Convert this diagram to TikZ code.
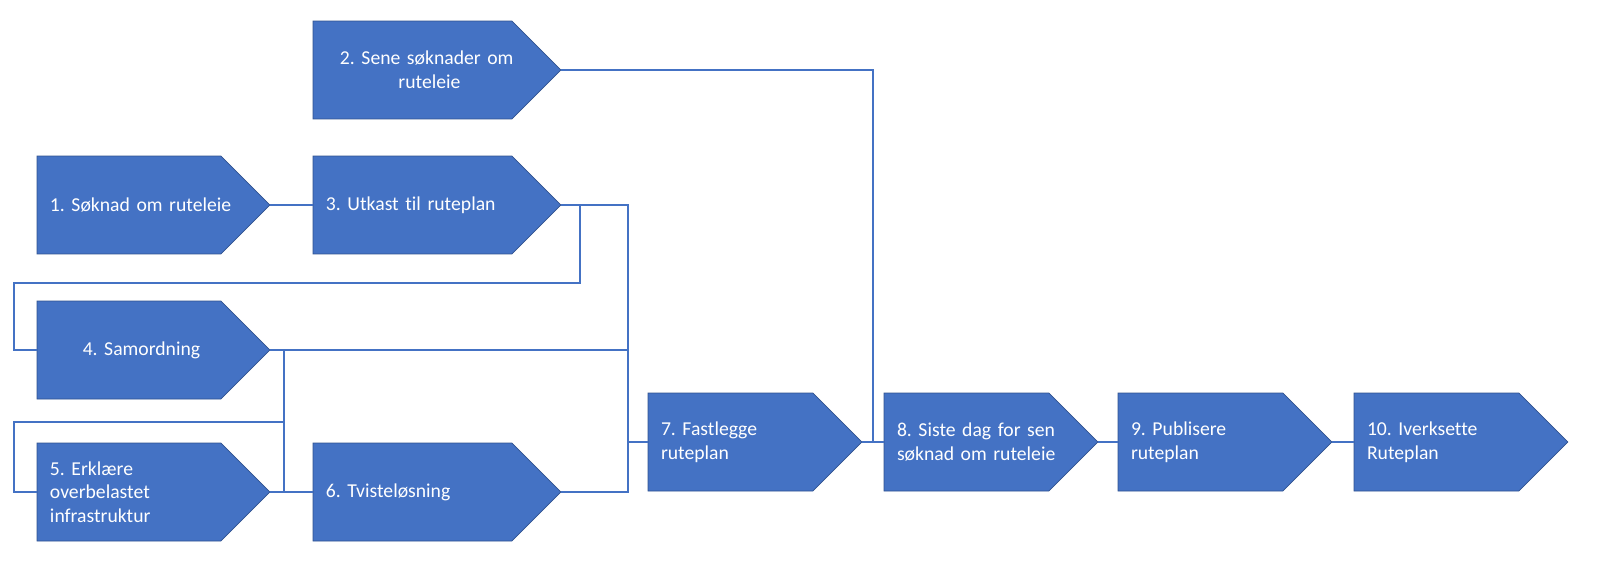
\documentclass[tikz,border=0pt]{standalone}
\usepackage{fontspec}
\setmainfont{Carlito}[Ligatures=NoCommon]
\usetikzlibrary{shapes.symbols}
\definecolor{boxblue}{HTML}{4472C4}
\definecolor{boxedge}{HTML}{2F528F}

\begin{document}
\begin{tikzpicture}[x=0.02cm, y=-0.02cm]

\tikzstyle{phase} = [signal, signal to=east, signal pointer angle=90, fill=boxblue, draw=boxedge, line width=0.4pt, text=white, font=\fontsize{11.2}{13.5}\selectfont\frenchspacing, minimum height=1.96cm, inner xsep=0.26cm, outer sep=0pt, align=left, anchor=west]
\tikzstyle{wideA} = [text width=3.16cm]
\tikzstyle{wideB} = [text width=3.46cm]
\tikzstyle{wideC} = [text width=2.78cm]
\tikzstyle{link} = [draw=boxblue, line width=1.5pt]

\useasboundingbox (0,0) rectangle (1600,566);

\node[phase, wideB] (p2) at (313,70) {\hspace*{.28cm}\mbox{2. Sene søknader om}\\\hspace*{1.45cm}ruteleie};
\node[phase, wideA] (p1) at (37,205) {\mbox{1. Søknad om ruteleie}};
\node[phase, wideB] (p3) at (313,205) {\mbox{3. Utkast til ruteplan}};
\node[phase, wideA, align=center] (p4) at (37,350) {\hspace*{.5cm}4. Samordning};
\node[phase, wideA] (p5) at (37,492) {5. Erklære\\overbelastet\\infrastruktur};
\node[phase, wideB] (p6) at (313,492) {6. Tvisteløsning};

\node[phase, wideC] (p7) at (648,442) {7. Fastlegge\\ruteplan};
\node[phase, wideC] (p8) at (884,442) {\mbox{8. Siste dag for sen}\\\mbox{søknad om ruteleie}};
\node[phase, wideC] (p9) at (1118,442) {9. Publisere\\ruteplan};
\node[phase, wideC] (p10) at (1354,442) {10. Iverksette\\Ruteplan};

\coordinate (bt) at (628,205);
\coordinate (bb) at (628,492);
\coordinate (k3) at (580,283);
\coordinate (w4) at (14,283);
\coordinate (k4) at (284,422);
\coordinate (w5) at (14,422);
\coordinate (j8) at (873,442);

\draw[link] (p1.east) -- (p3.west);
\draw[link] (p3.east) -- (bt) -- (bb) -- (p6.east);
\draw[link] (p3.east -| k3) -- (k3) -- (w4) |- (p4.west);
\draw[link] (p4.east) -- (p4.east -| bt);
\draw[link] (p4.east -| k4) -- (p6.west -| k4);
\draw[link] (k4) -- (w5) |- (p5.west);
\draw[link] (p5.east) -- (p6.west);
\draw[link] (bt |- p7.west) -- (p7.west);

\draw[link] (p2.east) -| (j8);
\draw[link] (p7.east) -- (p8.west);
\draw[link] (p8.east) -- (p9.west);
\draw[link] (p9.east) -- (p10.west);
\end{tikzpicture}
\end{document}
